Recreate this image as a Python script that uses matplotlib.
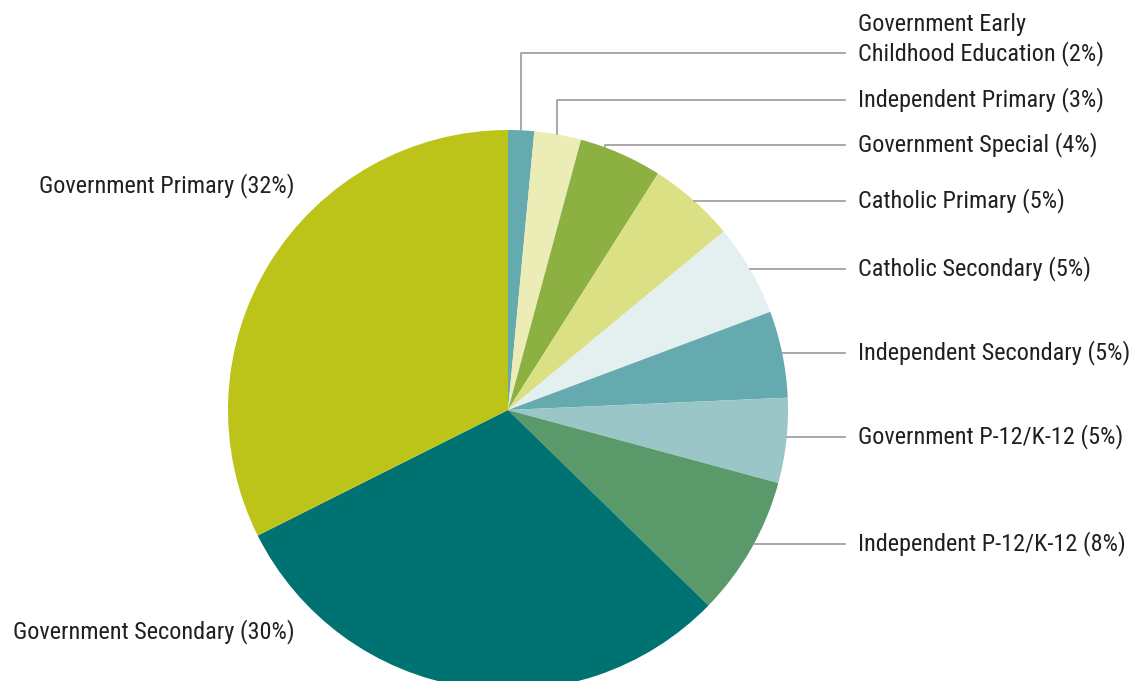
import numpy as np
import matplotlib.pyplot as plt

# school types, clockwise from 12 o'clock
labels = ['Government Early\nChildhood Education (2%)', 'Independent Primary (3%)',
          'Government Special (4%)', 'Catholic Primary (5%)', 'Catholic Secondary (5%)',
          'Independent Secondary (5%)', 'Government P-12/K-12 (5%)',
          'Independent P-12/K-12 (8%)', 'Government Secondary (30%)',
          'Government Primary (32%)']
# slice sizes (percent)
shares = [1.5, 2.7, 4.8, 5.0, 5.3, 5.0, 4.9, 8.1, 30.3, 32.4]
colors = ['#65aaae', '#ebecb6', '#8db043', '#dce084', '#e4f0f0',
          '#65aaae', '#9bc6c8', '#5a9a6a', '#007272', '#bcc41a']

W, H = 1138, 681
fig = plt.figure(figsize=(W / 100, H / 100), dpi=100)
ax = fig.add_axes([0, 0, 1, 1])
ax.axis('off')

# pie placement in pixels (y measured from top)
cx, cy, r = 508, 410, 280
def Y(y):
    return H - y

ax.pie(shares, colors=colors, startangle=90, counterclock=False,
       center=(cx, Y(cy)), radius=r, wedgeprops=dict(linewidth=0))
ax.set_xlim(0, W)
ax.set_ylim(0, H)
ax.set_aspect('auto')

font = dict(family=['Roboto Condensed', 'Archivo Narrow', 'DejaVu Sans'],
            size=17.5, color='#231f20')
line_kw = dict(color='#9a9a9a', lw=1.2)
x_end, x_text = 845, 858

# leaders going up first (anchor x, label y)
up = [(521, 53), (557, 100), (605, 145)]
for i, (ax_x, ly) in enumerate(up):
    ey = cy - np.sqrt(r ** 2 - (ax_x - cx) ** 2)
    ax.plot([ax_x, ax_x, x_end], [Y(ey), Y(ly), Y(ly)], **line_kw)
    if '\n' in labels[i]:
        ax.text(x_text, Y(ly) - 13, labels[i], ha='left', va='bottom', linespacing=1.25, **font)
    else:
        ax.text(x_text, Y(ly), labels[i], ha='left', va='center', **font)

# horizontal leaders
side = [201, 269, 353, 437, 544]
for i, ly in zip(range(3, 8), side):
    ex = cx + np.sqrt(r ** 2 - (ly - cy) ** 2)
    ax.plot([ex, x_end], [Y(ly), Y(ly)], **line_kw)
    ax.text(x_text, Y(ly), labels[i], ha='left', va='center', **font)

# left-hand labels, no leaders
ax.text(295, Y(632), labels[8], ha='right', va='center', **font)
ax.text(295, Y(186), labels[9], ha='right', va='center', **font)

fig.savefig('out.png', dpi=100, facecolor='white')
